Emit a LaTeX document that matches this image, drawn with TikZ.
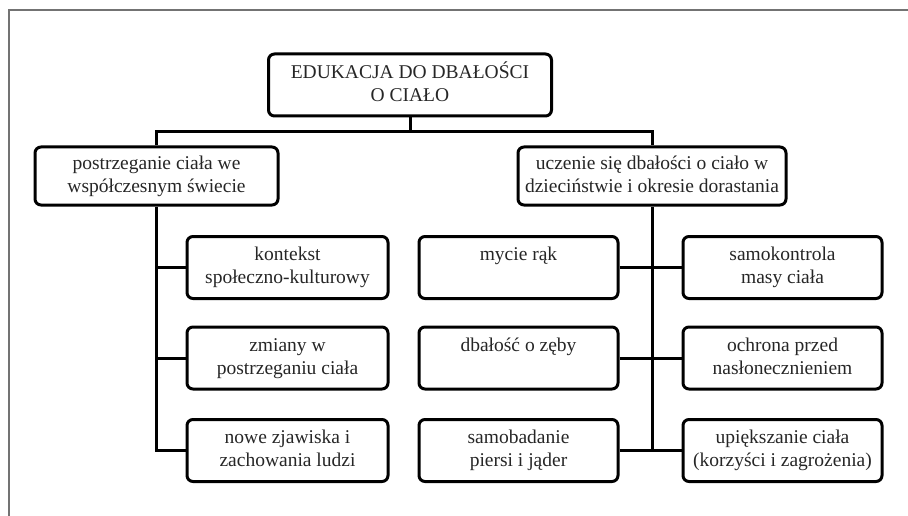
\documentclass[tikz,border=0pt]{standalone}
\usepackage{fontspec}
\setmainfont{Liberation Serif}
\newcommand{\twol}[2]{\strut #1\\\strut #2}
\begin{document}
\begin{tikzpicture}[x=1pt,y=-1pt,
  box/.style={draw=black, line width=3pt, rounded corners=6pt, inner sep=0pt,
    align=center, text=black!85, font=\fontsize{19.5}{23}\selectfont},
  conn/.style={draw=black, line width=3pt},
  frameline/.style={draw=black!55, line width=2pt}]
\useasboundingbox (0,0) rectangle (908,516);
\draw[frameline] (9,516) -- (9,10) -- (908,10);

\node[box, minimum width=283pt, minimum height=62pt] (top) at (410,85) {\twol{EDUKACJA DO DBAŁOŚCI}{O CIAŁO}};
\node[box, minimum width=243pt, minimum height=58pt] (L) at (156.5,176) {\twol{postrzeganie ciała we}{współczesnym świecie}};
\node[box, minimum width=268pt, minimum height=58pt] (R) at (652,176) {\twol{uczenie się dbałości o ciało w}{dzieciństwie i okresie dorastania}};

\node[box, minimum width=201pt, minimum height=62pt] (a1) at (287.5,267.5) {\twol{kontekst}{społeczno-kulturowy}};
\node[box, minimum width=201pt, minimum height=62pt] (a2) at (287.5,358) {\twol{zmiany w}{postrzeganiu ciała}};
\node[box, minimum width=201pt, minimum height=62pt] (a3) at (287.5,450.5) {\twol{nowe zjawiska i}{zachowania ludzi}};

\node[box, minimum width=199pt, minimum height=62pt] (m1) at (518.5,267.5) {\twol{mycie rąk}{}};
\node[box, minimum width=199pt, minimum height=62pt] (m2) at (518.5,358) {\twol{dbałość o zęby}{}};
\node[box, minimum width=199pt, minimum height=62pt] (m3) at (518.5,450.5) {\twol{samobadanie}{piersi i jąder}};

\node[box, minimum width=199pt, minimum height=62pt] (r1) at (782.5,267.5) {\twol{samokontrola}{masy ciała}};
\node[box, minimum width=199pt, minimum height=62pt] (r2) at (782.5,358) {\twol{ochrona przed}{nasłonecznieniem}};
\node[box, minimum width=199pt, minimum height=62pt] (r3) at (782.5,450.5) {\twol{upiększanie ciała}{(korzyści i zagrożenia)}};

\coordinate (bar) at (410,132);
\draw[conn] (top.south) -- (bar);
\draw[conn] (L.north) |- (bar) -| (R.north);

\draw[conn] (L.south) |- (a3.west);
\draw[conn] (a1.west) -- (a1.west -| L.south);
\draw[conn] (a2.west) -- (a2.west -| L.south);

\draw[conn] (R.south) -- (R.south |- m3.east);
\draw[conn] (m1.east) -- (r1.west);
\draw[conn] (m2.east) -- (r2.west);
\draw[conn] (m3.east) -- (r3.west);
\end{tikzpicture}
\end{document}
